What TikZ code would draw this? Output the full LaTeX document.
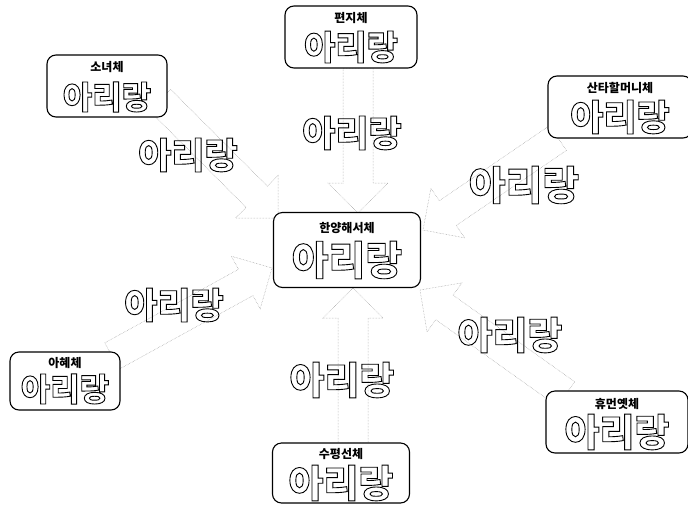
\documentclass[tikz,border=0pt]{standalone}
\usepackage{fontspec}
\usetikzlibrary{calc}
\newfontfamily\kr{Noto Sans CJK KR}
\newcommand\ttl[1]{{\kr\bfseries\fontsize{12}{14}\selectfont #1}}
\newcommand\wrd[2]{{\kr\bfseries\fontsize{#1}{#1}\selectfont\special{pdf:literal direct 1 Tr 0.9 w}#2\special{pdf:literal direct 0 Tr}}}
\newcommand\myblockarrow[2]{%
  \coordinate (bh) at ($(#2)!30pt!(#1)$);
  \draw[arrowline] ($(#1)!15pt!90:(#2)$) -- ($(bh)!15pt!90:(#2)$) -- ($(bh)!30pt!90:(#2)$) -- (#2)
    -- ($(bh)!30pt!-90:(#2)$) -- ($(bh)!15pt!-90:(#2)$) -- ($(#1)!15pt!-90:(#2)$) -- cycle;}
\tikzset{
  arrowline/.style={draw=black!40, densely dotted, line width=0.5pt},
  fontbox/.style={draw, line width=1.1pt, rounded corners=9pt, fill=white, inner sep=0pt},
  lbl/.style={inner sep=0pt}
}
\begin{document}
\begin{tikzpicture}[x=1pt,y=-1pt]
\useasboundingbox (0,0) rectangle (688,504);
% arrow end points
\coordinate (s1) at (358,68);  \coordinate (t1) at (358,213);
\coordinate (s2) at (160,100); \coordinate (t2) at (278,218);
\coordinate (s3) at (558,138); \coordinate (t3) at (423,230);
\coordinate (s4) at (112,356); \coordinate (t4) at (272,268);
\coordinate (s5) at (566,394); \coordinate (t5) at (420,290);
\coordinate (s6) at (353,443); \coordinate (t6) at (353,288);
\myblockarrow{s1}{t1}
\myblockarrow{s2}{t2}
\myblockarrow{s3}{t3}
\myblockarrow{s4}{t4}
\myblockarrow{s5}{t5}
\myblockarrow{s6}{t6}
% arrow labels
\node[lbl] (w1) at (352,133) {\wrd{36}{아리랑}};
\node[lbl] (w2) at (188,155) {\wrd{36}{아리랑}};
\node[lbl] (w3) at (524,185) {\wrd{40}{아리랑}};
\node[lbl] (w4) at (174,305) {\wrd{36}{아리랑}};
\node[lbl] (w5) at (510,335) {\wrd{38}{아리랑}};
\node[lbl] (w6) at (342,380) {\wrd{38}{아리랑}};
% boxes
\node[fontbox, minimum width=147pt, minimum height=75pt] (c) at (347,250) {};
\node[lbl] (ct) at ($(c.north)+(0,16)$) {\ttl{한양해서체}};
\node[lbl] (cw) at ($(c.center)+(0,10)$) {\wrd{40}{아리랑}};
\node[fontbox, minimum width=132pt, minimum height=62pt] (pj) at (351,37) {};
\node[lbl] (pjt) at ($(pj.north)+(0,13)$) {\ttl{편지체}};
\node[lbl] (pjw) at ($(pj.center)+(0,10)$) {\wrd{34}{아리랑}};
\node[fontbox, minimum width=120pt, minimum height=62pt] (sn) at (107,86) {};
\node[lbl] (snt) at ($(sn.north)+(0,13)$) {\ttl{소녀체}};
\node[lbl] (snw) at ($(sn.center)+(0,11)$) {\wrd{32}{아리랑}};
\node[fontbox, minimum width=144pt, minimum height=62pt] (st) at (620,107) {};
\node[lbl] (stt) at ($(st.north)+(0,13)$) {\ttl{산타할머니체}};
\node[lbl] (stw) at ($(st.center)+(0,10)$) {\wrd{36}{아리랑}};
\node[fontbox, minimum width=110pt, minimum height=58pt] (ah) at (65,381) {};
\node[lbl] (aht) at ($(ah.north)+(0,12)$) {\ttl{아혜체}};
\node[lbl] (ahw) at ($(ah.center)+(0,8)$) {\wrd{32}{아리랑}};
\node[fontbox, minimum width=142pt, minimum height=62pt] (hm) at (617,422) {};
\node[lbl] (hmt) at ($(hm.north)+(0,14)$) {\ttl{휴먼옛체}};
\node[lbl] (hmw) at ($(hm.center)+(0,10)$) {\wrd{38}{아리랑}};
\node[fontbox, minimum width=137pt, minimum height=60pt] (sp) at (341,473) {};
\node[lbl] (spt) at ($(sp.north)+(0,12)$) {\ttl{수평선체}};
\node[lbl] (spw) at ($(sp.center)+(0,10)$) {\wrd{38}{아리랑}};
\end{tikzpicture}
\end{document}
